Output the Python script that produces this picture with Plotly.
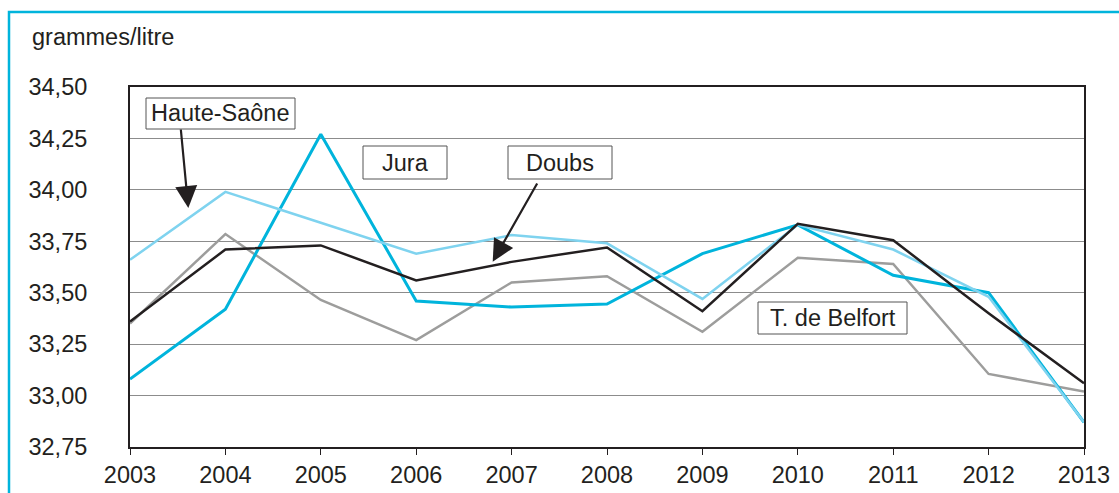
import plotly.graph_objects as go

years = [2003, 2004, 2005, 2006, 2007, 2008, 2009, 2010, 2011, 2012, 2013]
jura = [33.08, 33.42, 34.27, 33.46, 33.43, 33.445, 33.69, 33.83, 33.585, 33.50, 32.87]
haute_saone = [33.66, 33.99, 33.84, 33.69, 33.78, 33.74, 33.47, 33.83, 33.71, 33.48, 32.87]
doubs = [33.36, 33.71, 33.73, 33.56, 33.65, 33.72, 33.41, 33.835, 33.755, 33.40, 33.06]
belfort = [33.35, 33.785, 33.465, 33.27, 33.55, 33.58, 33.31, 33.67, 33.64, 33.105, 33.02]

y_ticks = [32.75, 33.00, 33.25, 33.50, 33.75, 34.00, 34.25, 34.50]
y_tick_text = ["32,75", "33,00", "33,25", "33,50", "33,75", "34,00", "34,25", "34,50"]
y_unit = "grammes/litre"

FONT = "Liberation Sans, Arial, sans-serif"
TXT = "#231F20"
FS = 23.5

fig = go.Figure()
fig.add_trace(go.Scatter(x=years, y=belfort, mode="lines", name="T. de Belfort",
                         line=dict(color="#9D9D9C", width=2.5)))
fig.add_trace(go.Scatter(x=years, y=jura, mode="lines", name="Jura",
                         line=dict(color="#00B4DC", width=3)))
fig.add_trace(go.Scatter(x=years, y=haute_saone, mode="lines", name="Haute-Saône",
                         line=dict(color="#7FD3EF", width=2.5)))
fig.add_trace(go.Scatter(x=years, y=doubs, mode="lines", name="Doubs",
                         line=dict(color="#231F20", width=2.5)))

W, H = 1119, 493
L, R, T, B = 130, 35, 87, 46
pw, ph = W - L - R, H - T - B


def px(x):
    return (x - L) / pw


def py(y):
    return (H - B - y) / ph


# cyan outer frame
fig.add_shape(type="rect", xref="paper", yref="paper",
              x0=px(9), x1=px(1140), y0=py(12), y1=py(520),
              line=dict(color="#00B4DC", width=2.5), layer="below")

# labels in boxes
boxes = [
    ("Haute-Saône", 146, 295, 98, 129),
    ("Jura", 363, 447, 146, 179),
    ("Doubs", 508, 612, 146, 179),
    ("T. de Belfort", 758, 907, 302, 334),
]
for text, x0, x1, y0, y1 in boxes:
    fig.add_shape(type="rect", xref="paper", yref="paper",
                  x0=px(x0), x1=px(x1), y0=py(y0), y1=py(y1),
                  line=dict(color="#555555", width=1), fillcolor="white")
    fig.add_annotation(xref="paper", yref="paper", x=px((x0 + x1) / 2), y=py((y0 + y1) / 2),
                       text=text, showarrow=False, xanchor="center", yanchor="middle",
                       font=dict(family=FONT, size=FS, color=TXT))

# arrows
arrows = [((180.7, 128), (188.3, 208)), ((538, 182), (492.7, 261.7))]
for (tx, ty), (hx, hy) in arrows:
    fig.add_annotation(xref="paper", yref="paper", axref="pixel", ayref="pixel",
                       x=px(hx), y=py(hy), ax=tx - hx, ay=ty - hy, text="",
                       showarrow=True, arrowhead=2, arrowsize=2, arrowwidth=2.2,
                       arrowcolor="#231F20")

# unit label
fig.add_annotation(xref="paper", yref="paper", x=px(30), y=py(37), text=y_unit,
                   showarrow=False, xanchor="left", yanchor="middle",
                   font=dict(family=FONT, size=FS, color=TXT))

fig.update_layout(
    width=W, height=H,
    margin=dict(l=L, r=R, t=T, b=B, autoexpand=False),
    paper_bgcolor="white", plot_bgcolor="white",
    showlegend=False,
    font=dict(family=FONT, size=FS, color=TXT),
)
fig.update_xaxes(range=[2003, 2013], tickvals=years, ticktext=[str(y) for y in years],
                 showgrid=False, showline=True, linecolor="#231F20", linewidth=2,
                 mirror=True, ticks="outside", ticklen=6, tickcolor="#231F20",
                 tickfont=dict(family=FONT, size=FS, color=TXT), zeroline=False,
                 automargin=False)
fig.update_yaxes(range=[32.75, 34.5], tickvals=y_ticks, ticktext=y_tick_text,
                 showgrid=True, gridcolor="#8C8C8C", gridwidth=1.2,
                 showline=True, linecolor="#231F20", linewidth=2, mirror=True,
                 ticks="", ticklabelstandoff=36,
                 tickfont=dict(family=FONT, size=FS, color=TXT), zeroline=False,
                 automargin=False)

fig.write_html("out.html", config={"displayModeBar": False},
               post_script="document.body.style.margin='0';document.body.style.overflow='hidden';")
